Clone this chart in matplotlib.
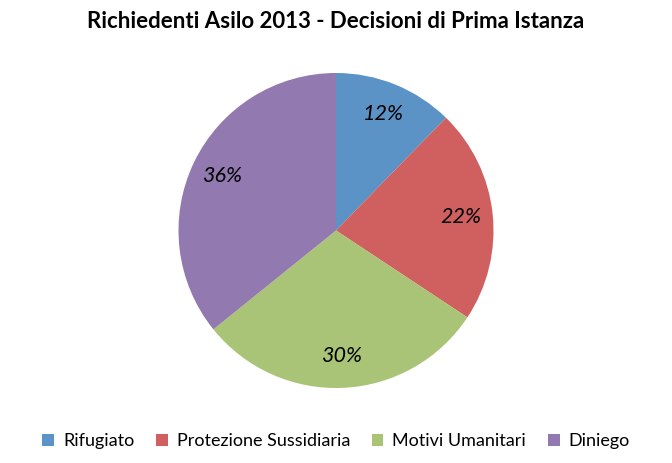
import matplotlib
matplotlib.use("Agg")
import matplotlib.pyplot as plt
from matplotlib.patches import Patch

categories = ["Rifugiato", "Protezione Sussidiaria", "Motivi Umanitari", "Diniego"]
values = [12.3, 22.0, 29.9, 35.8]
colors = ["#5B93C6", "#D0605F", "#A9C476", "#9279AF"]
title = "Richiedenti Asilo 2013 - Decisioni di Prima Istanza"

plt.rcParams['font.family'] = ['Lato', 'DejaVu Sans']

fig = plt.figure(figsize=(6.72, 4.63), dpi=100)
ax = fig.add_axes([0, 0, 1, 1])

cx, cy, r = 336, 230.5, 157.5
wedges, texts, autotexts = ax.pie(values, colors=colors, startangle=-90, counterclock=True,
                                  radius=r, center=(cx, cy), autopct='%1.0f%%', pctdistance=0.80,
                                  wedgeprops=dict(linewidth=0),
                                  textprops=dict(fontsize=15.5, style='italic', color='black'),
                                  frame=True)
ax.set_xlim(0, 672)
ax.set_ylim(463, 0)
ax.set_aspect('equal')
ax.axis('off')

fig.text(0.5, 1 - 21/463, title, ha='center', va='center', fontsize=16, fontweight='bold')

handles = [Patch(facecolor=c, edgecolor='none') for c in colors]
fig.legend(handles, categories, loc='center', bbox_to_anchor=(0.5, 1 - 441/463), ncol=4,
           frameon=False, fontsize=13, handlelength=0.65, handleheight=0.65,
           handletextpad=0.5, columnspacing=1.2)

fig.savefig("out.png", dpi=100)
